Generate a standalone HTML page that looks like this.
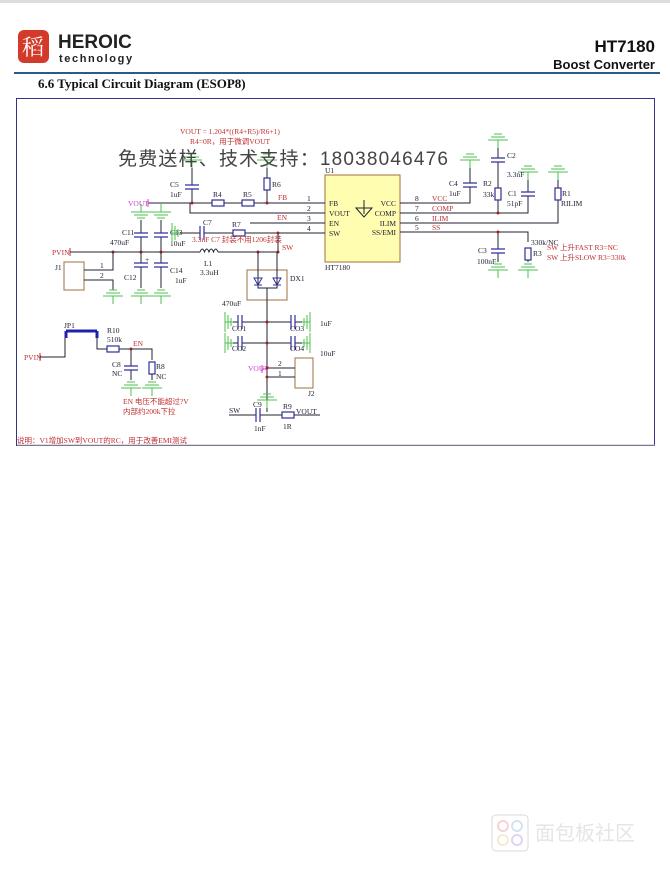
<!DOCTYPE html>
<html><head><meta charset="utf-8"><style>
html,body{margin:0;padding:0;background:#fff;}
svg{display:block}
.s{font-family:"Liberation Serif","Noto Serif CJK SC",serif;font-size:7.5px;fill:#223}
.r{font-family:"Liberation Serif","Noto Sans CJK SC",serif;font-size:7.5px;fill:#c03030}
.m{font-family:"Liberation Serif",serif;font-size:7.5px;fill:#d040d0}
.w{stroke:#223;stroke-width:1;fill:none}
.b{stroke:#30309a;stroke-width:1.2;fill:none}
.g{stroke:#4cc04c;stroke-width:1;fill:none}
</style></head><body>
<svg width="670" height="870" viewBox="0 0 670 870" xmlns="http://www.w3.org/2000/svg">
<defs>
<g id="gd"><path class="g" d="M0 0V-8M-10 0H10M-7 3H7M-4 6H4" transform="scale(1,-1)"/></g>
<g id="gu"><path class="g" d="M0 0V-8M-10 0H10M-7 3H7M-4 6H4"/></g>
<g id="gl"><path class="g" d="M0 0H-8M0 -10V10M-3 -7V7M-6 -4V4" transform="scale(-1,1)"/></g>
<g id="gr"><path class="g" d="M0 0H-8M0 -10V10M-3 -7V7M-6 -4V4"/></g>
<g id="cv"><path class="b" d="M-7 -2H7M-7 2H7"/></g>
<g id="ch"><path class="b" d="M-2 -7V7M2 -7V7"/></g>
<g id="rv"><rect x="-3" y="-6" width="6" height="12" fill="#fff" stroke="#30309a" stroke-width="1.2"/></g>
<g id="rh"><rect x="-6" y="-3" width="12" height="6" fill="#fff" stroke="#30309a" stroke-width="1.2"/></g>
</defs>
<rect x="0" y="0" width="670" height="3" fill="#ddd"/>
<!-- header -->
<rect x="18" y="30" width="31" height="33" rx="6" fill="#d43a2a"/>
<text x="33" y="55" text-anchor="middle" font-family="Noto Serif CJK SC,serif" font-size="22" fill="#fff">稻</text>
<text x="58" y="48" font-family="Liberation Sans,sans-serif" font-weight="bold" font-size="19" fill="#222">HEROIC</text>
<text x="59" y="62" font-family="Liberation Sans,sans-serif" font-weight="bold" font-size="11" letter-spacing="1.6" fill="#222">technology</text>
<text x="655" y="52" text-anchor="end" font-family="Liberation Sans,sans-serif" font-weight="bold" font-size="17" fill="#111">HT7180</text>
<text x="655" y="69" text-anchor="end" font-family="Liberation Sans,sans-serif" font-weight="bold" font-size="13" fill="#111">Boost Converter</text>
<rect x="14" y="72" width="646" height="2" fill="#2a5a8a"/>
<text x="38" y="88" font-family="Liberation Serif,serif" font-weight="bold" font-size="13" fill="#111">6.6  Typical Circuit Diagram (ESOP8)</text>
<rect x="16.5" y="98.5" width="638" height="347" fill="none" stroke="#33338a" stroke-width="1"/>
<line x1="17" y1="445" x2="655" y2="445" stroke="#bbb"/>

<!-- formula -->
<text class="r" x="180" y="134">VOUT = 1.204*((R4+R5)/R6+1)</text>
<text class="r" x="190" y="144">R4=0R，用于微调VOUT</text>

<!-- U1 -->
<rect x="325" y="175" width="75" height="87" fill="#fffdb0" stroke="#a07040"/>
<text class="s" x="325" y="173">U1</text>
<text class="s" x="325" y="270">HT7180</text>
<text class="s" x="329" y="206">FB</text><text class="s" x="329" y="216">VOUT</text><text class="s" x="329" y="226">EN</text><text class="s" x="329" y="236">SW</text>
<text class="s" x="396" y="206" text-anchor="end">VCC</text><text class="s" x="396" y="216" text-anchor="end">COMP</text><text class="s" x="396" y="226" text-anchor="end">ILIM</text><text class="s" x="396" y="235" text-anchor="end">SS/EMI</text>
<path class="w" d="M356 208L364 217L372 208Z M364 200V214"/>

<!-- left wires -->
<path class="w" d="M148 203H325 M190 203V213H325 M250 223H325 M244 233H325"/>
<text class="s" x="307" y="201">1</text><text class="s" x="307" y="211">2</text><text class="s" x="307" y="221">3</text><text class="s" x="307" y="231">4</text>
<text class="r" x="278" y="200">FB</text><text class="r" x="277" y="220">EN</text>
<text class="m" x="128" y="206">VOUT</text><path d="M148 199V207" stroke="#d040d0"/>
<!-- C5 -->
<path class="w" d="M192 168V185M192 189V203"/><use href="#cv" x="192" y="187"/><use href="#gd" x="192" y="160"/>
<text class="s" x="170" y="187">C5</text><text class="s" x="170" y="197">1uF</text>
<use href="#rh" x="218" y="203"/><use href="#rh" x="248" y="203"/>
<text class="s" x="213" y="197">R4</text><text class="s" x="243" y="197">R5</text>
<path class="w" d="M267 168V203"/><use href="#rv" x="267" y="184"/><use href="#gd" x="267" y="160"/>
<text class="s" x="272" y="187">R6</text>
<circle cx="267" cy="203" r="1.5" fill="#a02020"/><circle cx="192" cy="203" r="1.5" fill="#a02020"/>

<!-- C11 C13 -->
<use href="#gu" x="141" y="212"/><use href="#gu" x="161" y="212"/>
<path class="w" d="M141 220V233M141 237V252M161 220V233M161 237V252"/>
<use href="#cv" x="141" y="235"/><use href="#cv" x="161" y="235"/>
<text class="s" x="122" y="235">C11</text><text class="s" x="110" y="245">470uF</text>
<text class="s" x="170" y="235">C13</text><text class="s" x="170" y="246">10uF</text>
<!-- C7 R7 -->
<use href="#gl" x="172" y="233"/><path class="w" d="M180 233H200M204 233H244"/><use href="#ch" x="202" y="233"/>
<use href="#rh" x="239" y="233"/>
<text class="s" x="203" y="225">C7</text><text class="s" x="232" y="227">R7</text>
<text class="r" x="192" y="242">3.3nF C7 封装不用1206封装</text>
<!-- PVIN -->
<text class="r" x="52" y="255">PVIN</text><path d="M70 248V256" stroke="#c03030"/>
<path class="w" d="M70 252H200 M218 252H278 M278 233V252"/>
<path class="w" d="M200 252q2.25 -6 4.5 0q2.25 -6 4.5 0q2.25 -6 4.5 0q2.25 -6 4.5 0"/>
<text class="s" x="204" y="266">L1</text><text class="s" x="200" y="275">3.3uH</text>
<text class="r" x="282" y="250">SW</text>
<circle cx="113" cy="252" r="1.5" fill="#a02020"/><circle cx="141" cy="252" r="1.5" fill="#a02020"/><circle cx="161" cy="252" r="1.5" fill="#a02020"/><circle cx="278" cy="252" r="1.5" fill="#a02020"/><circle cx="258" cy="252" r="1.5" fill="#a02020"/><circle cx="278" cy="233" r="1.5" fill="#a02020"/>
<!-- J1 -->
<rect x="64" y="262" width="20" height="28" fill="none" stroke="#a07040"/>
<text class="s" x="55" y="270">J1</text>
<path class="w" d="M84 270H113V252M84 280H113V290"/>
<text class="s" x="100" y="268">1</text><text class="s" x="100" y="278">2</text>
<use href="#gd" x="113" y="296"/>
<!-- C12 C14 -->
<path class="w" d="M141 252V263M141 267V288M161 252V263M161 267V288"/>
<use href="#cv" x="141" y="265"/><use href="#cv" x="161" y="265"/>
<use href="#gd" x="141" y="296"/><use href="#gd" x="161" y="296"/>
<text class="s" x="124" y="280">C12</text><text class="s" x="145" y="262">+</text>
<text class="s" x="170" y="273">C14</text><text class="s" x="175" y="283">1uF</text>
<!-- DX1 -->
<rect x="247" y="270" width="40" height="30" fill="none" stroke="#a07040"/>
<text class="s" x="290" y="281">DX1</text>
<path class="w" d="M258 252V288H277V252M267 288V412"/>
<path d="M254 278H262L258 285Z M254 285H262 M273 278H281L277 285Z M273 285H281" stroke="#30309a" fill="none"/>
<!-- CO caps -->
<text class="s" x="222" y="306">470uF</text>
<use href="#gl" x="225" y="322"/><use href="#gl" x="225" y="343"/><use href="#gr" x="310" y="322"/><use href="#gr" x="310" y="343"/>
<path class="w" d="M233 322H238M242 322H291M295 322H302 M233 343H238M242 343H291M295 343H302"/>
<use href="#ch" x="240" y="322"/><use href="#ch" x="240" y="343"/><use href="#ch" x="293" y="322"/><use href="#ch" x="293" y="343"/>
<text class="s" x="232" y="331">CO1</text><text class="s" x="232" y="351">CO2</text><text class="s" x="290" y="331">CO3</text><text class="s" x="290" y="351">CO4</text>
<text class="s" x="320" y="326">1uF</text><text class="s" x="320" y="356">10uF</text>
<circle cx="267" cy="322" r="1.5" fill="#a02020"/><circle cx="267" cy="343" r="1.5" fill="#a02020"/>
<!-- J2 -->
<text class="m" x="248" y="371">VOUT</text><path d="M262 365V373" stroke="#d040d0"/><path d="M262 369H267" stroke="#d040d0"/>
<rect x="295" y="358" width="18" height="30" fill="none" stroke="#a07040"/>
<path class="w" d="M267 368H295M267 377H295"/>
<text class="s" x="278" y="366">2</text><text class="s" x="278" y="376">1</text><text class="s" x="308" y="396">J2</text>
<circle cx="267" cy="368" r="1.5" fill="#a02020"/><circle cx="267" cy="377" r="1.5" fill="#a02020"/>
<use href="#gd" x="267" y="400"/>
<!-- C9 R9 -->
<text class="s" x="229" y="413">SW</text><text class="s" x="296" y="414">VOUT</text>
<path class="w" d="M229 415H256M260 415H320"/><use href="#ch" x="258" y="415"/><use href="#rh" x="288" y="415"/>
<text class="s" x="253" y="407">C9</text><text class="s" x="254" y="431">1nF</text><text class="s" x="283" y="409">R9</text><text class="s" x="283" y="429">1R</text>
<!-- JP1 -->
<text class="s" x="64" y="328">JP1</text>
<path d="M66 331H97M66 331V338M97 331V338" stroke="#2020b0" stroke-width="3" fill="none"/>
<text class="r" x="24" y="360">PVIN</text><path d="M40 353V361" stroke="#c03030"/>
<path class="w" d="M40 357H65V338M97 338V349H152V360M131 349V366M131 370V380M152 374V380"/>
<use href="#rh" x="113" y="349"/>
<text class="s" x="107" y="333">R10</text><text class="s" x="107" y="342">510k</text><text class="r" x="133" y="346">EN</text>
<circle cx="131" cy="349" r="1.5" fill="#a02020"/>
<use href="#cv" x="131" y="368"/><use href="#rv" x="152" y="368"/>
<use href="#gd" x="131" y="388"/><use href="#gd" x="152" y="388"/>
<text class="s" x="112" y="367">C8</text><text class="s" x="112" y="376">NC</text><text class="s" x="156" y="369">R8</text><text class="s" x="156" y="379">NC</text>
<text class="r" x="123" y="404">EN 电压不能超过?V</text><text class="r" x="123" y="414">内部约200k下拉</text>
<text class="r" x="17" y="443">说明：V1增加SW到VOUT的RC，用于改善EMI测试</text>

<!-- right side -->
<path class="w" d="M400 203H470V187M470 183V168 M400 213H528V196M528 192V180 M400 223H558V180 M400 232H528V242 M498 213V162M498 158V148 M498 232V249M498 253V262 M528 260V262"/>
<use href="#cv" x="470" y="185"/><use href="#gd" x="470" y="160"/>
<use href="#cv" x="498" y="160"/><use href="#gd" x="498" y="140"/>
<use href="#rv" x="498" y="194"/>
<use href="#cv" x="528" y="194"/><use href="#gd" x="528" y="172"/>
<use href="#rv" x="558" y="194"/><use href="#gd" x="558" y="172"/>
<use href="#cv" x="498" y="251"/><use href="#rv" x="528" y="254"/>
<use href="#gd" x="498" y="270"/><use href="#gd" x="528" y="270"/>
<circle cx="498" cy="213" r="1.5" fill="#a02020"/><circle cx="498" cy="232" r="1.5" fill="#a02020"/>
<text class="s" x="415" y="201">8</text><text class="s" x="415" y="211">7</text><text class="s" x="415" y="221">6</text><text class="s" x="415" y="230">5</text>
<text class="r" x="432" y="201">VCC</text><text class="r" x="432" y="211">COMP</text><text class="r" x="432" y="221">ILIM</text><text class="r" x="432" y="230">SS</text>
<text class="s" x="449" y="186">C4</text><text class="s" x="449" y="196">1uF</text>
<text class="s" x="483" y="186">R2</text><text class="s" x="483" y="197">33k</text>
<text class="s" x="507" y="158">C2</text><text class="s" x="507" y="177">3.3nF</text>
<text class="s" x="508" y="196">C1</text><text class="s" x="507" y="206">51pF</text>
<text class="s" x="562" y="196">R1</text><text class="s" x="561" y="206">RILIM</text>
<text class="s" x="478" y="253">C3</text><text class="s" x="477" y="264">100nF</text>
<text class="s" x="531" y="245">330k/NC</text><text class="s" x="533" y="256">R3</text>
<text class="r" x="547" y="250">SW 上升FAST R3=NC</text><text class="r" x="547" y="260">SW 上升SLOW R3=330k</text>

<!-- watermark -->
<text x="118" y="165" textLength="330" lengthAdjust="spacing" font-family="Liberation Sans,Noto Sans CJK SC,sans-serif" font-size="19" fill="#444">免费送样、技术支持：18038046476</text>
<g opacity="0.3">
<rect x="492" y="815" width="36" height="36" rx="4" fill="none" stroke="#888"/>
<circle cx="503" cy="826" r="5" fill="none" stroke="#e07070" stroke-width="2"/><circle cx="517" cy="826" r="5" fill="none" stroke="#70a0e0" stroke-width="2"/><circle cx="503" cy="840" r="5" fill="none" stroke="#e0c070" stroke-width="2"/><circle cx="517" cy="840" r="5" fill="none" stroke="#a070e0" stroke-width="2"/>
<text x="535" y="840" font-family="Noto Sans CJK SC,sans-serif" font-size="20" fill="#aaa">面包板社区</text>
</g>
</svg>
</body></html>
